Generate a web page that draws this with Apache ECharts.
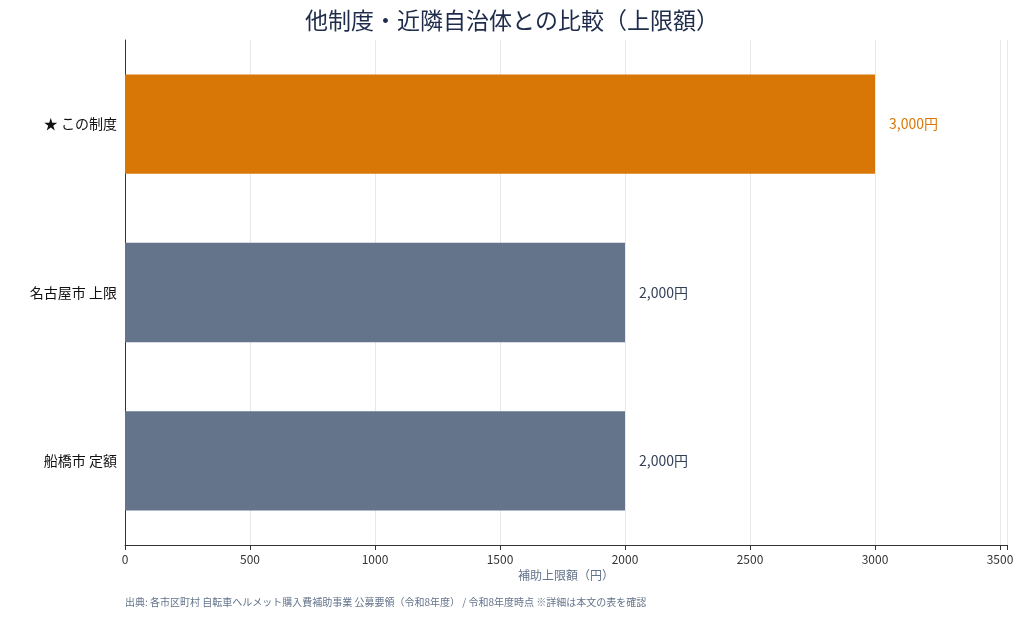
<!DOCTYPE html><html><head><meta charset="utf-8">
<script src="https://cdn.jsdelivr.net/npm/echarts@6/dist/echarts.min.js"></script>
<style>body{margin:0}#c{width:1024px;height:620px}</style></head><body><div id="c"></div><script>
const categories=['船橋市 定額','名古屋市 上限','★ この制度'];
const values=[2000,2000,3000];
const labels=['2,000円','2,000円','3,000円'];
const colors=['#64748b','#64748b','#d97706'];
const labelColors=['#334155','#334155','#d97706'];
const f='"Noto Sans CJK JP","Noto Sans",sans-serif';
const ch=echarts.init(document.getElementById('c'));
ch.setOption({
 textStyle:{fontFamily:f},
 title:{text:'他制度・近隣自治体との比較（上限額）',left:'center',top:4,textStyle:{fontSize:23,fontWeight:'normal',color:'#1e2b4a',fontFamily:f}},
 graphic:[{type:'text',left:125,top:597,style:{text:'出典: 各市区町村 自転車ヘルメット購入費補助事業 公募要領（令和8年度） / 令和8年度時点 ※詳細は本文の表を確認',fill:'#64748b',fontSize:10,fontFamily:f}}],
 grid:{left:125,top:40,width:882,height:505},
 xAxis:{type:'value',min:0,max:3528,interval:500,name:'補助上限額（円）',nameLocation:'middle',nameGap:22,nameTextStyle:{color:'#64748b',fontSize:12},
  axisLine:{show:true,lineStyle:{color:'#333'}},axisTick:{show:true,lineStyle:{color:'#333'}},
  axisLabel:{color:'#333',fontSize:12,showMaxLabel:true,formatter:v=>v>3500?'':v},splitLine:{lineStyle:{color:'#e8e8e8'}}},
 yAxis:{type:'category',data:categories,axisLine:{lineStyle:{color:'#333'}},axisTick:{alignWithLabel:true,lineStyle:{color:'#333'}},axisLabel:{color:'#111',fontSize:14}},
 series:[{type:'bar',barWidth:'59%',data:values.map((v,i)=>({value:v,itemStyle:{color:colors[i]},label:{show:true,position:'right',distance:14,formatter:labels[i],color:labelColors[i],fontSize:14}}))}]
});
</script></body></html>
